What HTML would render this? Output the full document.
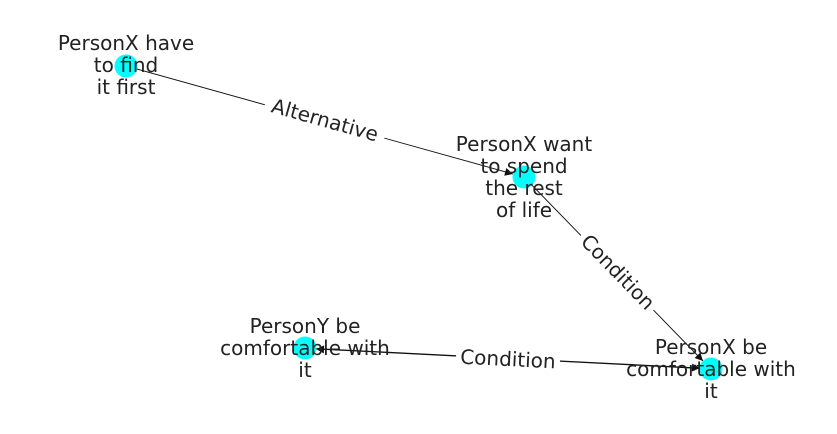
<!DOCTYPE html>
<html><head><style>html,body{margin:0;padding:0;background:#fff}svg{display:block}</style></head>
<body>
<svg width="837" height="434" viewBox="0 0 837 434" xmlns="http://www.w3.org/2000/svg" font-family="DejaVu Sans, Liberation Sans, sans-serif" font-size="20" fill="#222">
<defs>
<marker id="ar" viewBox="0 0 10 10" refX="10" refY="5" markerWidth="11" markerHeight="8" markerUnits="userSpaceOnUse" orient="auto">
<path d="M0,0 L10,5 L0,10 z" fill="#111"/>
</marker>
</defs>
<g stroke="#111" stroke-width="0.9" fill="none">
<line x1="126" y1="66" x2="513" y2="174" marker-end="url(#ar)"/>
<line x1="524" y1="177" x2="703" y2="361" marker-end="url(#ar)"/>
<line x1="711" y1="369" x2="316" y2="349" marker-end="url(#ar)"/>
<line x1="305" y1="348" x2="700" y2="368" marker-end="url(#ar)"/>
</g>
<g fill="#00ffff">
<circle cx="126" cy="66" r="11.5"/>
<circle cx="524" cy="177" r="11.5"/>
<circle cx="711" cy="369" r="11.5"/>
<circle cx="305" cy="348" r="11.5"/>
</g>
<g text-anchor="middle" dominant-baseline="central">
<g transform="translate(325,120) rotate(15.7)"><rect x="-62" y="-12" width="124" height="24" fill="#fff"/><text x="0" y="0">Alternative</text></g>
<g transform="translate(618,272) rotate(45.8)"><rect x="-52" y="-12" width="104" height="24" fill="#fff"/><text x="0" y="0">Condition</text></g>
<g transform="translate(508,359) rotate(2.9)"><rect x="-52" y="-12" width="104" height="24" fill="#fff"/><text x="0" y="0">Condition</text></g>
<text x="126" y="43">PersonX have</text>
<text x="126" y="65">to find</text>
<text x="126" y="87">it first</text>
<text x="524" y="144">PersonX want</text>
<text x="524" y="166">to spend</text>
<text x="524" y="188">the rest</text>
<text x="524" y="210">of life</text>
<text x="711" y="347">PersonX be</text>
<text x="711" y="369">comfortable with</text>
<text x="711" y="391">it</text>
<text x="305" y="326">PersonY be</text>
<text x="305" y="348">comfortable with</text>
<text x="305" y="370">it</text>
</g>
</svg>
</body></html>
